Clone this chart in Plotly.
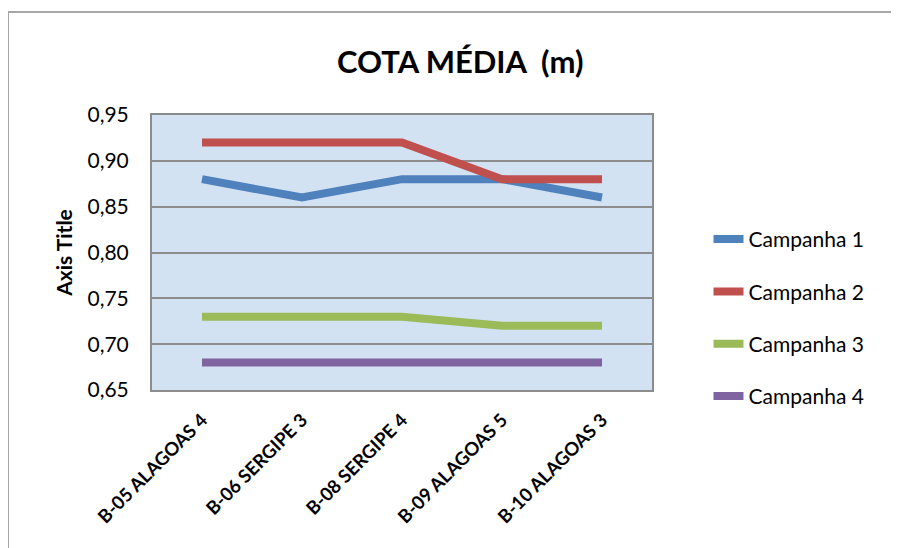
import plotly.graph_objects as go

# dados do gráfico
categorias = ["B-05 ALAGOAS 4", "B-06 SERGIPE 3", "B-08 SERGIPE 4", "B-09 ALAGOAS 5", "B-10 ALAGOAS 3"]
campanha_1 = [0.88, 0.86, 0.88, 0.88, 0.86]
campanha_2 = [0.92, 0.92, 0.92, 0.88, 0.88]
campanha_3 = [0.73, 0.73, 0.73, 0.72, 0.72]
campanha_4 = [0.68, 0.68, 0.68, 0.68, 0.68]
nomes = ["Campanha 1", "Campanha 2", "Campanha 3", "Campanha 4"]
cores = ["#4f81bd", "#c0504d", "#9bbb59", "#8064a2"]
y_ticks = [0.65, 0.70, 0.75, 0.80, 0.85, 0.90, 0.95]

fonte = "Lato, Carlito, Liberation Sans, sans-serif"

fig = go.Figure()
for i, serie in enumerate([campanha_1, campanha_2, campanha_3, campanha_4]):
    fig.add_scatter(
        x=categorias,
        y=serie,
        name=nomes[i],
        mode="lines",
        line=dict(color=cores[i], width=8),
        legendgroup=nomes[i],
    )

# moldura externa do gráfico
fig.add_shape(
    type="rect", xref="paper", yref="paper",
    x0=-0.288, x1=1.8, y0=-0.9, y1=1.3745,
    line=dict(color="#a6a6a6", width=2), layer="below",
)

fig.update_layout(
    width=899,
    height=548,
    separators=", ",
    paper_bgcolor="white",
    plot_bgcolor="#d3e2f3",
    margin=dict(l=144, r=255, t=107, b=166),
    font=dict(family=fonte, color="black"),
    title=dict(
        text="<b>COTA MÉDIA  (m)</b>",
        x=0.503, xref="container", xanchor="center",
        y=1 - 54 / 548, yref="container", yanchor="middle",
        font=dict(size=31, family=fonte),
    ),
    showlegend=True,
    legend=dict(
        x=1.113, xanchor="left", y=0.262, yanchor="middle",
        font=dict(size=21, family=fonte),
        tracegroupgap=22,
        traceorder="grouped",
        bgcolor="rgba(0,0,0,0)",
    ),
)

fig.update_xaxes(
    type="category",
    range=[-0.5, 4.5],
    tickangle=-45,
    tickfont=dict(size=18.5, family=fonte),
    tickprefix="<b>", ticksuffix="</b>",
    ticklabelstandoff=10,
    showgrid=False,
    showline=True, linecolor="#8c8c8c", linewidth=2, mirror=True,
    ticks="",
)
fig.update_yaxes(
    range=[0.65, 0.95],
    tickvals=y_ticks,
    tickformat=".2f",
    tickfont=dict(size=21, family=fonte),
    ticklabelstandoff=17,
    showgrid=True, gridcolor="#8c8c8c", gridwidth=1.5,
    showline=True, linecolor="#8c8c8c", linewidth=2, mirror=True,
    zeroline=False,
    title=dict(text="<b>Axis Title</b>", font=dict(size=21, family=fonte), standoff=9),
)

fig.write_html("out.html")
